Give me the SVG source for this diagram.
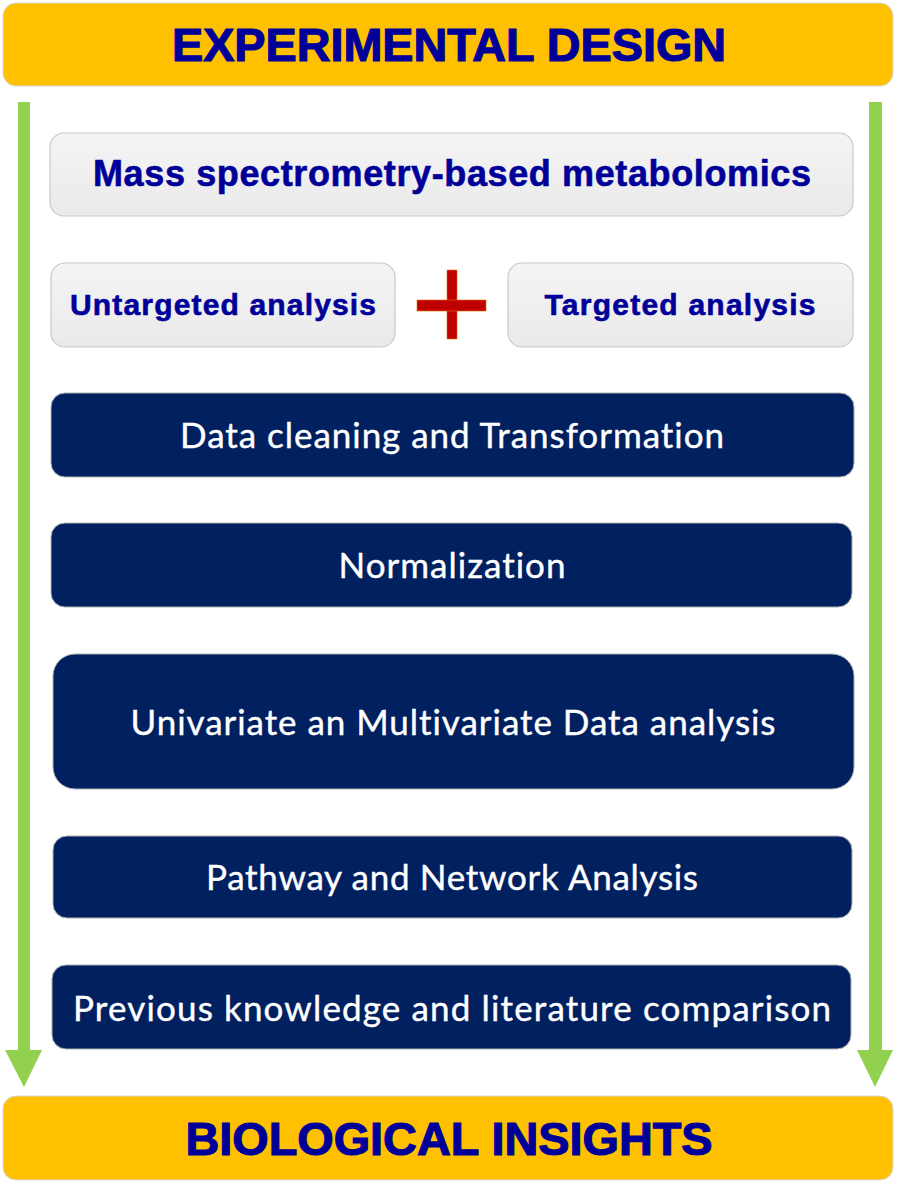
<svg xmlns="http://www.w3.org/2000/svg" width="898" height="1184" viewBox="0 0 898 1184">
<defs>
<linearGradient id="gray" x1="0" y1="0" x2="0" y2="1">
<stop offset="0" stop-color="#F4F4F4"/>
<stop offset="1" stop-color="#EAEAEA"/>
</linearGradient>
</defs>
<style>
.banner{fill:#FFC000;stroke:#D9D9D9;stroke-width:1}
.btitle{font-family:"Liberation Sans",Arial,sans-serif;font-weight:bold;font-size:46px;fill:#000099;stroke:#000099;stroke-width:1.2;text-anchor:middle}
.light{fill:url(#gray);stroke:#C8C8C8;stroke-width:1.2}
.ltext{font-family:"Liberation Sans",Arial,sans-serif;font-weight:bold;fill:#000099;stroke:#000099;stroke-width:0.6;text-anchor:middle}
.dark{fill:#002060;stroke:#B0B0B0;stroke-width:1}
.dtext{font-family:Lato,"Open Sans",sans-serif;font-size:35px;fill:#FFFFFF;stroke:#FFFFFF;stroke-width:0.4;text-anchor:middle;font-variant-ligatures:none;font-feature-settings:"liga" 0}
.arrow{fill:#92D050}
.plus{fill:#C00000;stroke:#E46C0A;stroke-width:0.6}
</style>
<g id="connectors">
<polygon class="arrow" points="18,102 30,102 30,1050 42,1050 24,1087 5,1050 18,1050"/>
<polygon class="arrow" points="869,102 882,102 882,1050 893,1050 875,1087 857,1050 869,1050"/>
</g>
<g id="experimental-design">
<rect class="banner" x="3" y="3" width="890" height="83" rx="13"/>
<text class="btitle" x="449" y="61" textLength="554" lengthAdjust="spacingAndGlyphs">EXPERIMENTAL DESIGN</text>
</g>
<g id="ms-metabolomics">
<rect class="light" x="50" y="133" width="803" height="83" rx="14"/>
<text class="ltext" x="452" y="186" font-size="36" textLength="718" lengthAdjust="spacing">Mass spectrometry-based metabolomics</text>
</g>
<g id="untargeted">
<rect class="light" x="51" y="263" width="344" height="84" rx="14"/>
<text class="ltext" x="223" y="315" font-size="30" textLength="306" lengthAdjust="spacing">Untargeted analysis</text>
</g>
<g id="plus">
<rect class="plus" x="447" y="270" width="10" height="69"/>
<rect class="plus" x="417" y="300" width="69" height="11"/>
</g>
<g id="targeted">
<rect class="light" x="508" y="263" width="345" height="84" rx="14"/>
<text class="ltext" x="680" y="315" font-size="30" textLength="271" lengthAdjust="spacing">Targeted analysis</text>
</g>
<g id="data-cleaning">
<rect class="dark" x="51" y="393" width="803" height="84" rx="14"/>
<text class="dtext" x="452" y="448" textLength="544" lengthAdjust="spacing">Data cleaning and Transformation</text>
</g>
<g id="normalization">
<rect class="dark" x="51" y="523" width="801" height="84" rx="14"/>
<text class="dtext" x="452" y="578" textLength="227" lengthAdjust="spacing">Normalization</text>
</g>
<g id="uni-multivariate">
<rect class="dark" x="53" y="654" width="801" height="135" rx="22"/>
<text class="dtext" x="453" y="735" textLength="645" lengthAdjust="spacing">Univariate an Multivariate Data analysis</text>
</g>
<g id="pathway">
<rect class="dark" x="53" y="836" width="799" height="82" rx="14"/>
<text class="dtext" x="452" y="890" textLength="492" lengthAdjust="spacing">Pathway and Network Analysis</text>
</g>
<g id="previous-knowledge">
<rect class="dark" x="52" y="965" width="799" height="84" rx="14"/>
<text class="dtext" x="452" y="1021" textLength="758" lengthAdjust="spacing">Previous knowledge and literature comparison</text>
</g>
<g id="biological-insights">
<rect class="banner" x="3" y="1096" width="890" height="84" rx="13"/>
<text class="btitle" x="449" y="1155" textLength="527" lengthAdjust="spacingAndGlyphs">BIOLOGICAL INSIGHTS</text>
</g>
</svg>
